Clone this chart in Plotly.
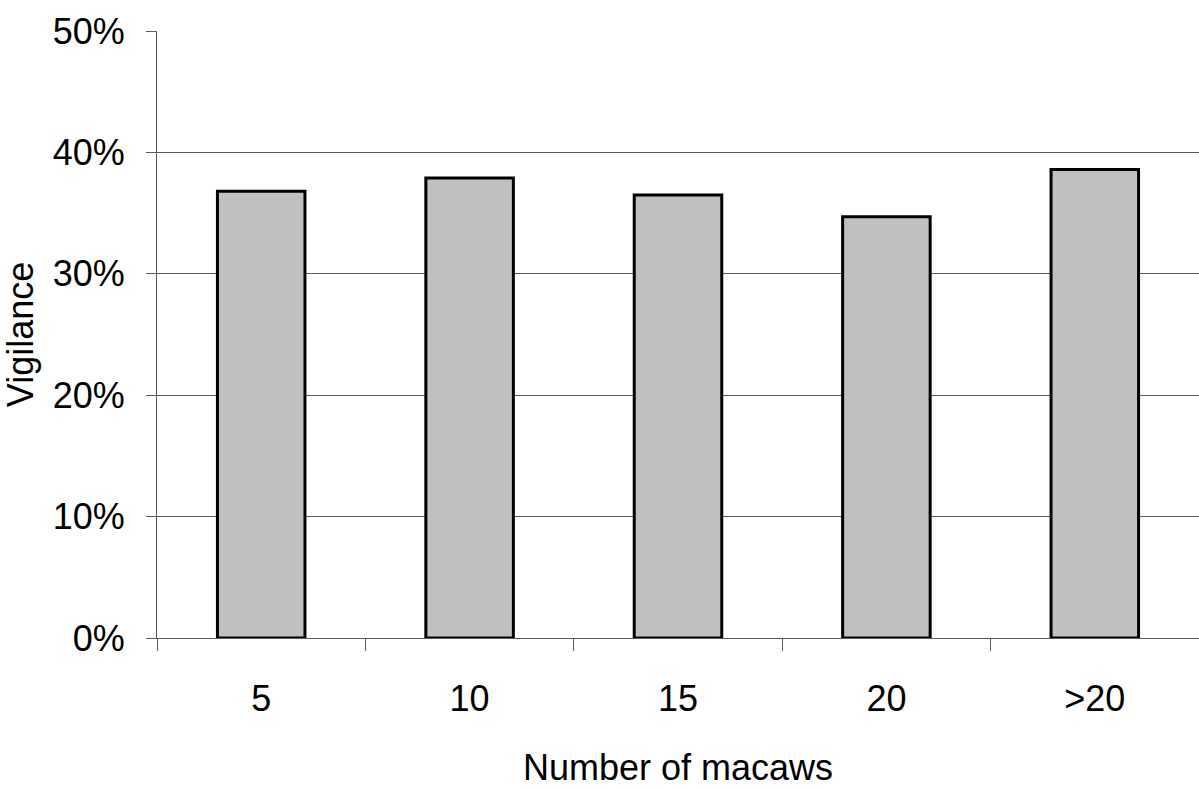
import plotly.graph_objects as go

categories = ["5", "10", "15", "20", ">20"]
vigilance = [0.368, 0.379, 0.365, 0.347, 0.386]
y_ticks = [0, 0.1, 0.2, 0.3, 0.4, 0.5]
y_ticklabels = ["0%", "10%", "20%", "30%", "40%", "50%"]

FONT = "Liberation Sans Narrow, Arial Narrow, Liberation Sans, Arial, sans-serif"
GRID = "#5a5a5a"
FS = 36

fig = go.Figure(
    go.Bar(
        x=categories,
        y=vigilance,
        marker=dict(color="#c0c0c0", line=dict(color="black", width=3)),
        hoverinfo="x+y",
    )
)

fig.update_layout(
    width=1199,
    height=789,
    margin=dict(l=157, r=0, t=31, b=151),
    paper_bgcolor="white",
    plot_bgcolor="white",
    bargap=0.58,
    showlegend=False,
    font=dict(family=FONT, size=FS, color="black"),
)

fig.update_xaxes(
    type="category",
    showline=True,
    linecolor=GRID,
    linewidth=1,
    showgrid=False,
    ticks="outside",
    tickson="boundaries",
    ticklen=12,
    tickcolor=GRID,
    tickwidth=1,
    ticklabelstandoff=29,
    tickfont=dict(family=FONT, size=FS, color="black"),
    title=dict(text="Number of macaws", font=dict(family=FONT, size=FS, color="black"), standoff=36),
)

fig.update_yaxes(
    range=[0, 0.5],
    tickvals=y_ticks,
    ticktext=y_ticklabels,
    showline=True,
    linecolor=GRID,
    linewidth=1,
    showgrid=True,
    gridcolor=GRID,
    gridwidth=1,
    zeroline=False,
    ticks="outside",
    ticklen=10,
    tickcolor=GRID,
    tickwidth=1,
    ticklabelstandoff=14,
    tickfont=dict(family=FONT, size=FS, color="black"),
    title=dict(text="Vigilance", font=dict(family=FONT, size=FS, color="black"), standoff=9),
)

fig.write_html("out.html")
